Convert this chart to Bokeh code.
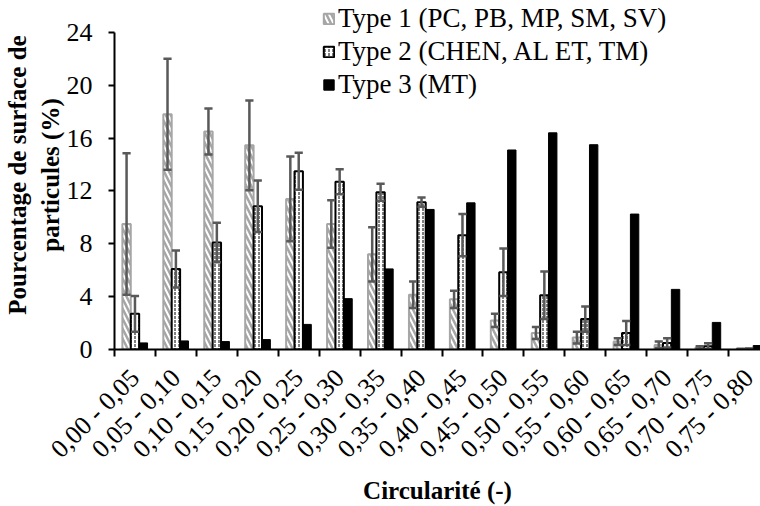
import math
import numpy as np
from bokeh.plotting import figure
from bokeh.models import (ColumnDataSource, Range1d, FixedTicker, Legend, LegendItem)
from bokeh.embed import file_html
from bokeh.resources import INLINE

categories = ["0,00 - 0,05", "0,05 - 0,10", "0,10 - 0,15", "0,15 - 0,20",
              "0,20 - 0,25", "0,25 - 0,30", "0,30 - 0,35", "0,35 - 0,40",
              "0,40 - 0,45", "0,45 - 0,50", "0,50 - 0,55", "0,55 - 0,60",
              "0,60 - 0,65", "0,65 - 0,70", "0,70 - 0,75", "0,75 - 0,80"]

type1 = [9.5, 17.8, 16.5, 15.45, 11.4, 9.5, 7.2, 4.15, 3.8, 2.2, 1.25, 0.9, 0.6, 0.35, 0.15, 0.03]
type1_err = [5.35, 4.2, 1.75, 3.4, 3.2, 1.8, 2.05, 1.0, 0.65, 0.5, 0.45, 0.45, 0.25, 0.25, 0.1, 0.02]
type2 = [2.7, 6.1, 8.1, 10.85, 13.5, 12.7, 11.9, 11.15, 8.65, 5.85, 4.1, 2.3, 1.25, 0.5, 0.25, 0.05]
type2_err = [1.35, 1.4, 1.5, 1.95, 1.4, 0.95, 0.65, 0.35, 1.6, 1.8, 1.8, 0.95, 0.9, 0.35, 0.22, 0.03]
type3 = [0.5, 0.65, 0.6, 0.75, 1.9, 3.85, 6.1, 10.6, 11.1, 15.1, 16.4, 15.5, 10.25, 4.55, 2.05, 0.3]

labels = ["Type 1 (PC, PB, MP, SM, SV)", "Type 2 (CHEN, AL ET, TM)", "Type 3 (MT)"]
yticks = [0, 4, 8, 12, 16, 20, 24]

FONT = "Liberation Serif"
idx = np.arange(len(categories))
bw = 0.205
offsets = [-bw, 0.0, bw]

p = figure(width=760, height=506, output_backend="svg", toolbar_location=None,
           x_range=Range1d(-0.5, 15.28), y_range=Range1d(0, 26.415),
           min_border_left=114, min_border_right=0, min_border_top=0,
           min_border_bottom=156)
p.outline_line_color = None
p.xgrid.visible = False
p.ygrid.visible = False
p.background_fill_color = "white"
p.border_fill_color = "white"

src1 = ColumnDataSource(dict(x=idx + offsets[0], top=type1))
src2 = ColumnDataSource(dict(x=idx + offsets[1], top=type2))
src3 = ColumnDataSource(dict(x=idx + offsets[2], top=type3))

r1 = p.vbar(x="x", top="top", width=bw, source=src1, fill_color="white",
            line_color="#A6A6A6", line_width=2, hatch_pattern="\\",
            hatch_color="#A6A6A6", hatch_weight=2.5, hatch_scale=10)
r2 = p.vbar(x="x", top="top", width=bw, source=src2, fill_color="white",
            line_color="black", line_width=2, hatch_pattern=":",
            hatch_color="black", hatch_weight=1, hatch_scale=4)
r3 = p.vbar(x="x", top="top", width=bw, source=src3, fill_color="black",
            line_color="black", line_width=1)

cap = 0.1
for off, vals, errs in [(offsets[0], type1, type1_err), (offsets[1], type2, type2_err)]:
    xs = idx + off
    lo = np.array(vals) - np.array(errs)
    hi = np.array(vals) + np.array(errs)
    p.segment(x0=xs, y0=lo, x1=xs, y1=hi, line_color="#595959", line_width=2.5)
    p.segment(x0=xs - cap, y0=hi, x1=xs + cap, y1=hi, line_color="#595959", line_width=2.5)
    p.segment(x0=xs - cap, y0=lo, x1=xs + cap, y1=lo, line_color="#595959", line_width=2.5)

# x axis
xa = p.xaxis[0]
xa.ticker = FixedTicker(ticks=list(idx), minor_ticks=list(np.arange(-0.5, 16.0, 1.0)))
xa.major_label_overrides = {int(i): c for i, c in zip(idx, categories)}
xa.major_label_orientation = math.pi / 4
xa.major_tick_out = 0
xa.major_tick_in = 0
xa.minor_tick_out = 7
xa.minor_tick_in = 0
xa.minor_tick_line_width = 2
xa.minor_tick_line_color = "black"
xa.axis_line_width = 2
xa.axis_line_color = "black"
xa.major_label_text_font = FONT
xa.major_label_text_font_size = "26px"
xa.major_label_text_color = "black"
xa.major_label_standoff = 17
xa.axis_label = "Circularité (-)"
xa.axis_label_text_font = FONT
xa.axis_label_text_font_size = "25px"
xa.axis_label_text_font_style = "bold"
xa.axis_label_text_color = "black"
xa.axis_label_standoff = 0

# y axis
ya = p.yaxis[0]
ya.ticker = FixedTicker(ticks=yticks, minor_ticks=[])
ya.bounds = (0, 24)
ya.major_tick_out = 6
ya.major_tick_in = 0
ya.major_tick_line_width = 2
ya.axis_line_width = 2
ya.axis_line_color = "black"
ya.major_label_text_font = FONT
ya.major_label_text_font_size = "26px"
ya.major_label_text_color = "black"
ya.major_label_standoff = 16
ya.axis_label = "Pourcentage de surface de\nparticules (%)"
ya.axis_label_text_font = FONT
ya.axis_label_text_font_size = "25px"
ya.axis_label_text_font_style = "bold"
ya.axis_label_text_color = "black"
ya.axis_label_standoff = 0

legend = Legend(items=[LegendItem(label=labels[0], renderers=[r1]),
                       LegendItem(label=labels[1], renderers=[r2]),
                       LegendItem(label=labels[2], renderers=[r3])],
                location=(208, 249))
legend.padding = 0
legend.margin = 0
legend.border_line_alpha = 0
legend.background_fill_alpha = 0
legend.glyph_width = 13
legend.glyph_height = 13
legend.label_standoff = 3
legend.label_height = 28
legend.spacing = 2
legend.label_text_font = FONT
legend.label_text_font_size = "27px"
legend.label_text_color = "black"
p.add_layout(legend)

open("out.html", "w").write(file_html(p, INLINE))
